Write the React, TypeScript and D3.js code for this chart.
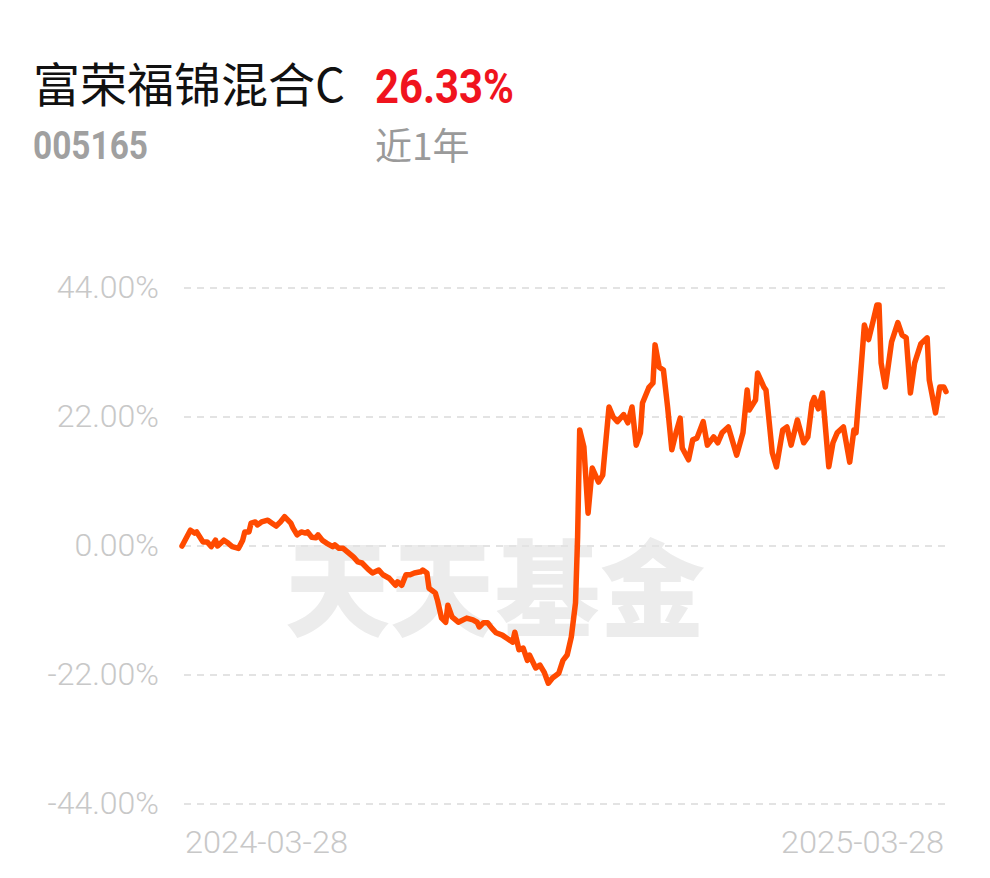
import React from "react";
import * as d3 from "d3";

const fundName = "富荣福锦混合C";
const fundCode = "005165";
const periodReturn = "26.33%";
const periodLabel = "近1年";
const watermark = "天天基金";

const yTicks = [44, 22, 0, -22, -44];
const xTickLabels = ["2024-03-28", "2025-03-28"];

const dates = [
  "2024-03-28","2024-04-01","2024-04-03","2024-04-04","2024-04-07","2024-04-09","2024-04-11","2024-04-13","2024-04-14","2024-04-17",
  "2024-04-19","2024-04-21","2024-04-24","2024-04-26","2024-04-27","2024-04-29","2024-04-30","2024-05-02","2024-05-03","2024-05-05",
  "2024-05-08","2024-05-10","2024-05-12","2024-05-14","2024-05-16","2024-05-19","2024-05-20","2024-05-22","2024-05-24","2024-05-26",
  "2024-05-27","2024-05-29","2024-05-31","2024-06-01","2024-06-03","2024-06-05","2024-06-08","2024-06-09","2024-06-11","2024-06-13",
  "2024-06-15","2024-06-18","2024-06-20","2024-06-22","2024-06-25","2024-06-27","2024-06-30","2024-07-02","2024-07-05","2024-07-08",
  "2024-07-09","2024-07-11","2024-07-13","2024-07-15","2024-07-17","2024-07-20","2024-07-21","2024-07-23","2024-07-24","2024-07-27",
  "2024-07-28","2024-07-30","2024-08-01","2024-08-02","2024-08-04","2024-08-07","2024-08-11","2024-08-14","2024-08-16","2024-08-17",
  "2024-08-19","2024-08-21","2024-08-23","2024-08-25","2024-08-28","2024-08-30","2024-09-02","2024-09-03","2024-09-05","2024-09-07",
  "2024-09-09","2024-09-10","2024-09-13","2024-09-15","2024-09-17","2024-09-19","2024-09-21","2024-09-24","2024-09-26","2024-09-28",
  "2024-09-30","2024-10-02","2024-10-03","2024-10-04","2024-10-06","2024-10-08","2024-10-10","2024-10-13","2024-10-15","2024-10-18",
  "2024-10-20","2024-10-22","2024-10-25","2024-10-27","2024-10-29","2024-10-31","2024-11-02","2024-11-03","2024-11-06","2024-11-08",
  "2024-11-09","2024-11-11","2024-11-13","2024-11-15","2024-11-17","2024-11-19","2024-11-21","2024-11-22","2024-11-25","2024-11-27",
  "2024-11-29","2024-12-02","2024-12-04","2024-12-07","2024-12-09","2024-12-11","2024-12-14","2024-12-18","2024-12-21","2024-12-23",
  "2024-12-24","2024-12-27","2024-12-28","2024-12-31","2025-01-01","2025-01-04","2025-01-06","2025-01-09","2025-01-11","2025-01-13",
  "2025-01-16","2025-01-19","2025-01-21","2025-01-23","2025-01-24","2025-01-26","2025-01-28","2025-01-31","2025-02-02","2025-02-04",
  "2025-02-07","2025-02-10","2025-02-12","2025-02-13","2025-02-15","2025-02-17","2025-02-19","2025-02-21","2025-02-23","2025-02-24",
  "2025-02-25","2025-02-27","2025-03-02","2025-03-05","2025-03-07","2025-03-09","2025-03-11","2025-03-13","2025-03-16","2025-03-19",
  "2025-03-20","2025-03-23","2025-03-25","2025-03-27","2025-03-28"
];

const returns = [
  0, 2.7, 2.2, 2.4, 0.7, 0.7, -0.1, 1.0, 0, 1.0,
  0.5, -0.1, -0.4, 1.0, 2.4, 2.4, 3.9, 4.1, 3.6, 4.1,
  4.4, 3.9, 3.4, 4.1, 5.0, 3.9, 3.1, 1.9, 2.4, 2.2,
  2.4, 1.5, 1.4, 1.9, 1.0, 0.5, -0.1, 0.2, -0.4, -0.4,
  -1.0, -1.9, -2.7, -2.9, -4.0, -4.6, -4.1, -4.9, -5.5, -6.7,
  -6.1, -6.7, -4.9, -4.9, -4.6, -4.4, -4.1, -4.6, -7.2, -8.0,
  -9.2, -12.3, -13.0, -10.1, -12.1, -13.0, -12.3, -12.6, -13.0, -13.8,
  -13.1, -13.1, -14.0, -14.8, -15.2, -15.7, -16.4, -14.7, -17.7, -17.4,
  -19.5, -18.6, -20.8, -20.3, -21.5, -23.4, -22.5, -21.7, -19.5, -18.6,
  -15.5, -9.7, 1.5, 19.8, 16.9, 5.6, 13.3, 10.9, 12.1, 23.7,
  22.0, 21.2, 22.4, 21.0, 23.7, 17.2, 19.3, 24.4, 27.0, 27.8,
  34.3, 30.5, 30.0, 23.7, 16.4, 19.3, 21.8, 16.7, 14.7, 18.1,
  18.4, 21.2, 17.2, 18.6, 17.6, 19.3, 20.3, 15.5, 19.3, 26.6,
  23.2, 24.9, 29.5, 27.1, 26.6, 15.9, 13.5, 19.8, 20.3, 17.2,
  21.5, 17.6, 18.6, 24.4, 25.3, 23.4, 26.1, 13.5, 17.6, 19.3,
  20.3, 14.3, 19.8, 19.3, 28.3, 37.7, 35.2, 38.1, 41.1, 41.1,
  31.2, 27.1, 34.8, 38.1, 36.0, 35.5, 26.1, 31.2, 34.5, 35.5,
  28.3, 22.7, 27.1, 27.1, 26.33
];

const parse = d3.timeParse("%Y-%m-%d");

export default function App() {
  const W = 990;
  const H = 878;
  const x = d3
    .scaleTime()
    .domain([parse(xTickLabels[0]) as Date, parse(xTickLabels[1]) as Date])
    .range([182, 946]);
  const y = d3.scaleLinear().domain([-44, 44]).range([804, 288]);

  const pts = dates.map((d, i) => ({ date: parse(d) as Date, v: returns[i] }));
  const line = d3
    .line<{ date: Date; v: number }>()
    .x((d) => x(d.date))
    .y((d) => y(d.v));

  const numFont = "Roboto, 'Noto Sans', sans-serif";
  const cjkFont = "'Noto Sans CJK SC', 'Noto Sans', sans-serif";

  return (
    <svg
      width={W}
      height={H}
      style={{ position: "absolute", left: 0, top: 0, background: "#fff" }}
    >
      <rect x={0} y={0} width={W} height={H} fill="#fff" />
      {/* header */}
      <text x={33} y={102} fontFamily={cjkFont} fontSize={47} fill="#111" textLength={312} lengthAdjust="spacing">
        {fundName}
      </text>
      <text
        x={375}
        y={103}
        fontFamily={numFont}
        fontWeight={700}
        fontSize={48}
        fill="#f0141e"
        textLength={139}
        lengthAdjust="spacingAndGlyphs"
      >
        {periodReturn}
      </text>
      <text
        x={33}
        y={159}
        fontFamily={numFont}
        fontWeight={700}
        fontSize={38}
        fill="#a0a0a0"
        textLength={115}
        lengthAdjust="spacingAndGlyphs"
      >
        {fundCode}
      </text>
      <text x={375} y={160} fontFamily={cjkFont} fontSize={37} fill="#9a9a9a">
        {periodLabel}
      </text>

      {/* watermark */}
      <text
        x={495}
        y={628}
        textAnchor="middle"
        fontFamily={cjkFont}
        fontWeight={900}
        fontSize={105}
        fill="#ececec"
      >
        {watermark}
      </text>

      {/* grid */}
      {yTicks.map((t) => (
        <g key={t}>
          <line
            x1={184}
            x2={946}
            y1={y(t)}
            y2={y(t)}
            stroke="#e3e3e3"
            strokeWidth={2}
            strokeDasharray="7 6"
          />
          <text
            x={159}
            y={y(t) + 10}
            textAnchor="end"
            fontFamily={numFont}
            fontWeight={300}
            fontSize={32}
            fill="#c8c8c8"
          >
            {`${t.toFixed(2)}%`}
          </text>
        </g>
      ))}

      {/* x labels */}
      <text x={185} y={853} fontFamily={numFont} fontWeight={300} fontSize={32} fill="#c8c8c8" textLength={163} lengthAdjust="spacingAndGlyphs">
        {xTickLabels[0]}
      </text>
      <text
        x={944}
        y={853}
        textAnchor="end"
        fontFamily={numFont}
        fontWeight={300}
        fontSize={32}
        fill="#c8c8c8"
        textLength={163}
        lengthAdjust="spacingAndGlyphs"
      >
        {xTickLabels[1]}
      </text>

      {/* line */}
      <path
        d={line(pts) || ""}
        fill="none"
        stroke="#ff4a00"
        strokeWidth={5.5}
        strokeLinejoin="round"
        strokeLinecap="round"
      />
    </svg>
  );
}
